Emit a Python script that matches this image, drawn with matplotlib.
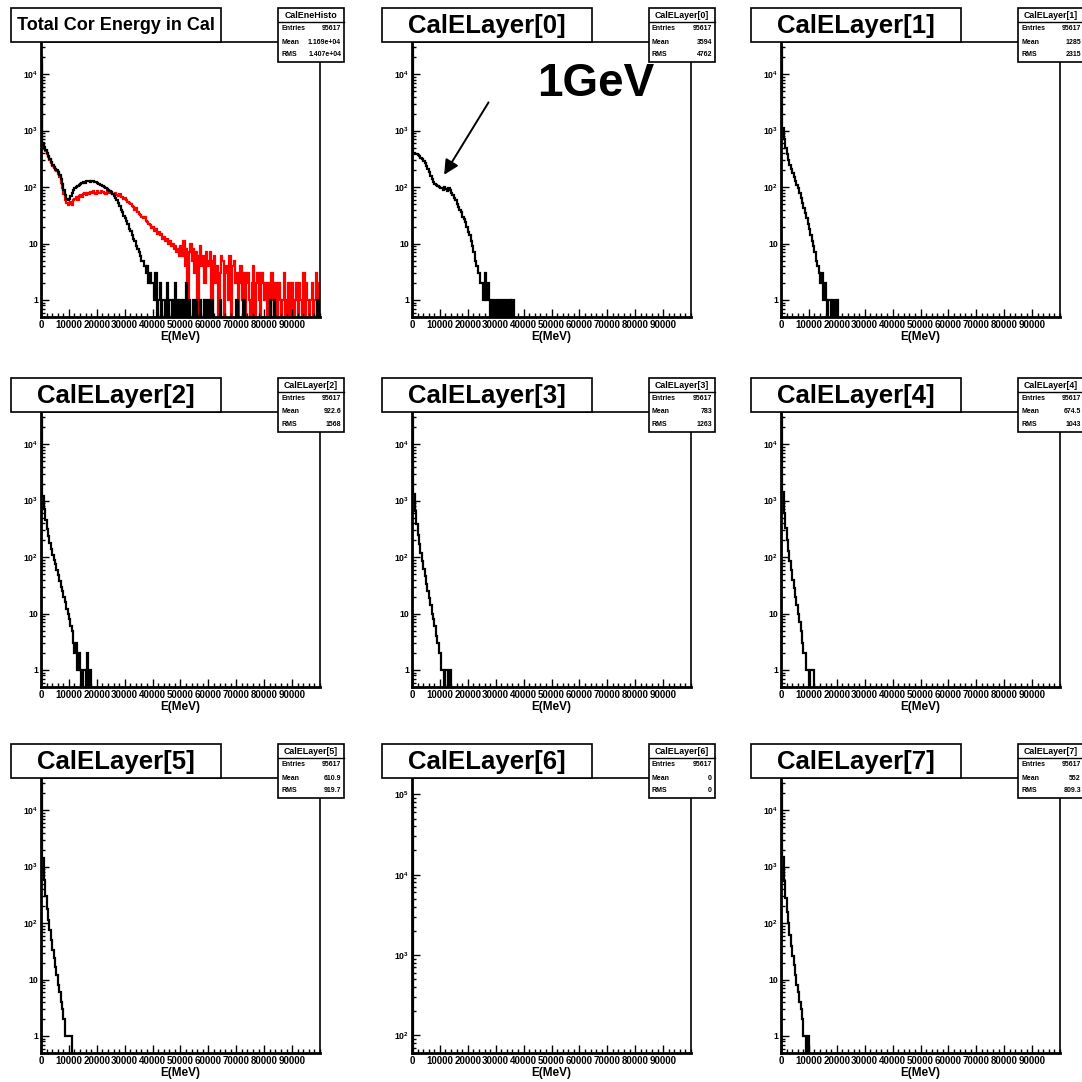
import numpy as np
import matplotlib
matplotlib.use("Agg")
import matplotlib.pyplot as plt
from matplotlib.patches import Rectangle
from matplotlib.lines import Line2D
from matplotlib.ticker import LogLocator, MultipleLocator, NullFormatter

plt.rcParams['font.family'] = ['Liberation Sans', 'DejaVu Sans']
plt.rcParams['font.weight'] = 'bold'
plt.rcParams['axes.labelweight'] = 'bold'
plt.rcParams['mathtext.fontset'] = 'custom'
plt.rcParams['mathtext.rm'] = 'Liberation Sans:bold'
plt.rcParams['mathtext.bf'] = 'Liberation Sans:bold'
plt.rcParams['mathtext.it'] = 'Liberation Sans:bold'

# bin width of every histogram (MeV)
bin_width = 500

# Total corrected energy in cal, black and red histograms
total_black = [20000, 600, 520, 450, 400, 350, 310, 280, 250, 230,
               210, 200, 185, 165, 140, 115, 90, 72, 62, 58,
               62, 70, 80, 88, 95, 100, 106, 110, 115, 118,
               122, 120, 126, 128, 130, 125, 128, 126, 122, 124,
               118, 115, 110, 108, 104, 100, 98, 94, 90, 86,
               82, 76, 70, 64, 58, 52, 46, 40, 36, 31,
               28, 25, 22, 18, 17, 14, 12, 11, 9, 8,
               7, 6, 5, 5, 4, 3, 4, 2, 3, 2,
               2, 1, 3, 0, 1, 2, 0, 1, 1, 0,
               2, 0, 1, 1, 0, 1, 2, 0, 1, 0,
               1, 0, 1, 0, 2, 0, 1, 0, 0, 1,
               0, 1, 0, 0, 1, 0, 0, 1, 0, 0,
               1, 0, 1, 0, 0, 0, 0, 0, 1, 0,
               0, 0, 0, 0, 0, 0, 0, 0, 0, 0,
               1, 0, 0, 0, 0, 1, 0, 0, 0, 0,
               0, 0, 0, 0, 0, 0, 0, 0, 0, 0,
               0, 0, 0, 0, 1, 0, 0, 1, 0, 0,
               0, 0, 0, 0, 0, 0, 0, 0, 0, 0,
               0, 0, 0, 0, 0, 0, 0, 0, 0, 0,
               0, 0, 0, 0, 0, 0, 0, 0, 1, 0]
total_red = [15000, 550, 480, 430, 390, 340, 300, 270, 240, 220,
             200, 190, 170, 150, 120, 95, 75, 60, 52, 48,
             50, 55, 48, 60, 62, 66, 58, 70, 72, 68,
             75, 78, 72, 80, 76, 82, 78, 85, 80, 76,
             84, 80, 78, 86, 82, 80, 76, 84, 80, 78,
             82, 76, 74, 80, 72, 70, 74, 68, 66, 62,
             64, 58, 55, 52, 50, 46, 44, 40, 42, 36,
             34, 32, 30, 28, 29, 25, 24, 22, 21, 19,
             20, 17, 18, 15, 16, 14, 15, 12, 13, 11,
             12, 10, 11, 9, 10, 8, 9, 7, 8, 6,
             9, 6, 11, 4, 8, 0, 7, 10, 5, 8,
             3, 7, 0, 6, 9, 4, 6, 2, 7, 5,
             4, 7, 0, 5, 6, 2, 4, 0, 3, 6,
             5, 0, 4, 3, 1, 6, 0, 4, 5, 2,
             3, 0, 2, 4, 1, 3, 0, 2, 3, 1,
             0, 2, 4, 0, 2, 3, 1, 0, 3, 2,
             1, 2, 0, 2, 0, 3, 1, 0, 2, 0,
             2, 1, 0, 1, 3, 0, 1, 2, 0, 2,
             2, 0, 1, 2, 0, 2, 1, 0, 3, 0,
             2, 1, 0, 1, 2, 0, 1, 3, 0, 2]

# Energy per calorimeter layer
layer0 = [30000, 400, 390, 380, 370, 350, 330, 310, 290, 265,
          240, 210, 185, 160, 140, 125, 115, 110, 105, 100,
          98, 95, 90, 100, 92, 85, 98, 88, 80, 72,
          64, 58, 50, 45, 40, 36, 30, 27, 24, 20,
          16, 14, 11, 9, 7, 5, 4, 3, 3, 2,
          2, 1, 3, 1, 2, 1, 0, 1, 1, 0,
          1, 1, 0, 1, 0, 1, 1, 0, 1, 0,
          1, 0, 1, 0]
layer1 = [30000, 1100, 700, 500, 380, 300, 250, 210, 180, 150,
          130, 110, 95, 80, 65, 52, 42, 35, 28, 22,
          18, 14, 11, 9, 7, 5, 4, 3, 2, 3,
          1, 2, 1, 0, 1, 1, 0, 1, 1, 0, 1]
layer2 = [30000, 1200, 700, 450, 320, 240, 180, 140, 110, 90,
          75, 60, 48, 38, 30, 25, 20, 16, 12, 10,
          8, 6, 5, 3, 2, 3, 1, 2, 1, 0,
          1, 1, 0, 2, 0, 1]
layer3 = [30000, 1300, 650, 380, 250, 170, 120, 85, 62, 46,
          34, 25, 19, 14, 10, 8, 6, 4, 3, 2,
          2, 1, 1, 0, 1, 1, 0, 1]
layer4 = [30000, 1400, 600, 330, 200, 130, 85, 58, 40, 28,
          20, 14, 10, 7, 5, 3, 2, 2, 1, 1,
          0, 1, 1, 1]
layer5 = [30000, 1400, 580, 300, 180, 115, 75, 50, 34, 24,
          17, 12, 8, 6, 4, 3, 2, 1, 1, 1,
          1, 1]
layer6 = [95617]
layer7 = [30000, 1500, 550, 280, 160, 100, 62, 40, 26, 18,
          12, 8, 6, 4, 3, 2, 1, 1, 0, 1]

titles = ['Total Cor Energy in Cal'] + ['CalELayer[%d]' % i for i in range(8)]
stat_names = ['CalEneHisto'] + ['CalELayer[%d]' % i for i in range(8)]
entries = ['95617'] * 9
means = ['1.169e+04', '3594', '1285', '922.6', '783', '674.5', '610.9', '0', '552']
rmss = ['1.407e+04', '4762', '2315', '1568', '1263', '1043', '919.7', '0', '809.3']
layers = [layer0, layer1, layer2, layer3, layer4, layer5, layer6, layer7]

W = H = 1082
fig = plt.figure(figsize=(W / 100, H / 100), dpi=100)
fig.patch.set_facecolor('white')


def fx(x):
    return x / W


def fy(y):
    return 1 - y / H


def add_rect(x0, y0, x1, y1, lw=1.2):
    r = Rectangle((fx(x0), fy(y1)), fx(x1) - fx(x0), fy(y0) - fy(y1),
                  transform=fig.transFigure, facecolor='white',
                  edgecolor='black', linewidth=lw, zorder=5)
    fig.add_artist(r)


col_off = [0, 371, 740]
row_off = [0, 370, 736]
axes_list = []
for k in range(9):
    r, c = divmod(k, 3)
    ox, oy = col_off[c], row_off[r]
    ax = fig.add_axes([fx(ox + 41), fy(oy + 317), (320 - 41) / W, (317 - 42) / H])
    axes_list.append(ax)
    ax.set_yscale('log', nonpositive='clip')
    ax.set_xlim(0, 100000)

    if k == 0:
        series = [(total_red, 'red'), (total_black, 'black')]
    else:
        series = [(layers[k - 1], 'black')]
    for counts, col in series:
        counts = np.array(counts, dtype=float)
        edges = np.arange(len(counts) + 1) * bin_width
        ax.stairs(np.where(counts > 0, counts, 1e-3), edges, baseline=1e-3,
                  color=col, linewidth=1.6)

    if k == 7:
        ax.set_ylim(60, 1.6e5)
        yt = [100, 1000, 10000, 100000]
        yl = ['$10^{2}$', '$10^{3}$', '$10^{4}$', '$10^{5}$']
    else:
        ax.set_ylim(0.5, 3.7e4)
        yt = [1, 10, 100, 1000, 10000]
        yl = ['1', '10', '$10^{2}$', '$10^{3}$', '$10^{4}$']
    ax.set_yticks(yt)
    ax.set_yticklabels(yl, fontsize=6.3)
    ax.yaxis.set_minor_locator(LogLocator(base=10, subs=np.arange(2, 10), numticks=20))
    ax.yaxis.set_minor_formatter(NullFormatter())

    ax.set_xticks(np.arange(0, 100000, 10000))
    ax.set_xticklabels([str(v) for v in range(0, 100000, 10000)], fontsize=7.0)
    ax.xaxis.set_minor_locator(MultipleLocator(2000))
    ax.tick_params(which='major', direction='in', length=6, width=1, pad=2,
                   top=False, right=False)
    ax.tick_params(which='minor', direction='in', length=3, width=1,
                   top=False, right=False)
    ax.set_xlabel('E(MeV)', fontsize=8.5, va='center')
    ax.xaxis.set_label_coords(0.5, -20 / 275)

    for side in ['left', 'bottom']:
        ax.spines[side].set_linewidth(2)
    for side in ['right', 'top']:
        ax.spines[side].set_linewidth(1.2)

    # title box
    add_rect(ox + 11, oy + 8, ox + 221, oy + 42)
    fs = 13 if k == 0 else 18.5
    fig.text(fx(ox + 116), fy(oy + 26), titles[k], fontsize=fs,
             ha='center', va='center', zorder=6)

    # stats box
    add_rect(ox + 278, oy + 8, ox + 344, oy + 62)
    fig.add_artist(Line2D([fx(ox + 278), fx(ox + 344)], [fy(oy + 22), fy(oy + 22)],
                          transform=fig.transFigure, color='black', lw=1, zorder=6))
    fig.text(fx(ox + 311), fy(oy + 15), stat_names[k], fontsize=6.4,
             ha='center', va='center', zorder=6)
    for lab, val, yy in [('Entries', entries[k], 29), ('Mean', means[k], 42),
                         ('RMS', rmss[k], 55)]:
        fig.text(fx(ox + 281), fy(oy + yy), lab, fontsize=5,
                 ha='left', va='center', zorder=6)
        fig.text(fx(ox + 341), fy(oy + yy), val, fontsize=5,
                 ha='right', va='center', zorder=6)

# annotation in CalELayer[0]
fig.text(fx(596), fy(84), '1GeV', fontsize=33, ha='center', va='center')
axes_list[1].annotate('', xy=(11000, 150), xycoords='data',
                      xytext=(490, H - 100), textcoords='figure pixels',
                      arrowprops=dict(arrowstyle='-|>', color='black', lw=1.4,
                                      mutation_scale=22))

fig.savefig('out.png', dpi=100, facecolor='white')
